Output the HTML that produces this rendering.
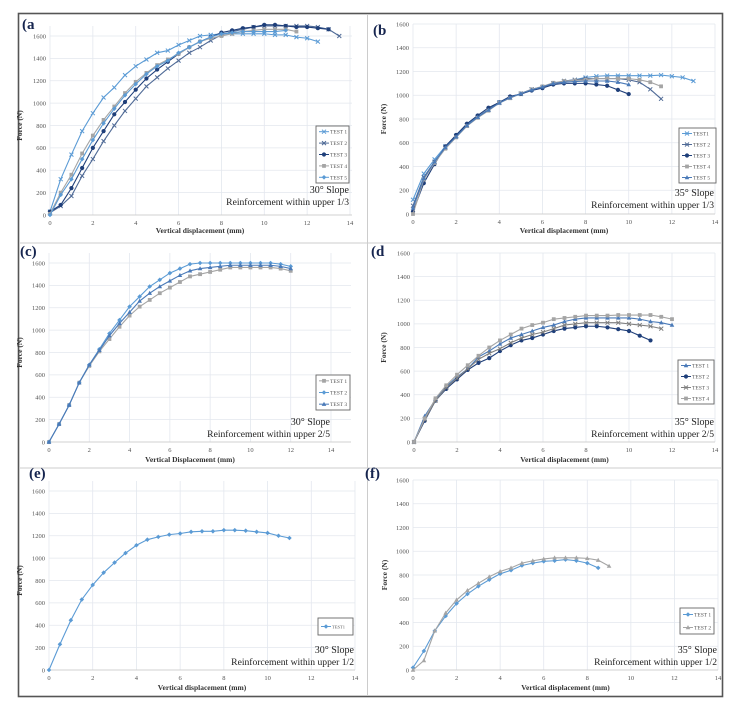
<!DOCTYPE html>
<html><head><meta charset="utf-8">
<style>
html,body{margin:0;padding:0;background:#fff;}
svg{display:block;font-family:"Liberation Serif",serif;}
</style></head>
<body>
<svg id="fig" width="737" height="714" viewBox="0 0 737 714">
<rect x="0" y="0" width="737" height="714" fill="#fff"/>
<rect x="18.5" y="13.5" width="704" height="683" fill="none" stroke="#555" stroke-width="1.6"/>
<line x1="367.5" y1="14" x2="367.5" y2="696" stroke="#ccc" stroke-width="1"/>
<line x1="19" y1="243" x2="722" y2="243" stroke="#ccc" stroke-width="1"/>
<line x1="19" y1="468" x2="722" y2="468" stroke="#ccc" stroke-width="1"/>
</svg>
<script>
// ---------- data ----------
const xTicks = [0,2,4,6,8,10,12,14];
const yTicks = [0,200,400,600,800,1000,1200,1400,1600];

const aTest1 = [30,320,540,750,910,1050,1140,1250,1330,1390,1450,1470,1520,1560,1600,1610,1620,1620,1620,1620,1620,1610,1610,1590,1580,1550];
const aTest2 = [20,80,170,350,500,660,800,930,1040,1150,1230,1310,1380,1450,1500,1560,1610,1640,1660,1680,1690,1690,1690,1690,1690,1680,1660,1600];
const aTest3 = [30,90,240,420,600,750,900,1010,1120,1220,1300,1370,1440,1500,1550,1590,1630,1650,1670,1680,1700,1700,1690,1680,1680,1670,1660];
const aTest4 = [10,200,360,550,710,850,970,1090,1190,1270,1340,1390,1440,1500,1550,1580,1600,1620,1640,1650,1660,1660,1660,1640];
const aTest5 = [0,180,320,500,670,820,950,1070,1170,1260,1330,1380,1450,1500,1550,1590,1620,1630,1640,1640,1640,1640,1650];

const bTest1 = [120,340,460,570,660,750,820,880,940,980,1010,1050,1070,1100,1120,1130,1150,1160,1165,1165,1165,1165,1165,1170,1160,1150,1120];
const bTest2 = [70,310,440,560,655,745,815,880,935,980,1015,1050,1070,1100,1120,1130,1140,1140,1140,1140,1130,1110,1050,970];
const bTest3 = [20,260,420,570,665,760,830,895,940,990,1010,1040,1060,1090,1100,1100,1100,1090,1080,1045,1010];
const bTest4 = [0,290,430,550,645,740,810,870,935,975,1015,1050,1075,1105,1120,1125,1130,1140,1140,1140,1140,1130,1110,1075];
const bTest5 = [50,300,440,560,650,745,815,875,935,980,1015,1045,1070,1100,1110,1115,1120,1120,1120,1110,1090];

const cTest1 = [0,160,330,530,680,810,920,1030,1130,1210,1270,1330,1380,1430,1480,1500,1520,1540,1560,1560,1560,1560,1560,1550,1530];
const cTest2 = [0,160,330,530,690,830,970,1090,1210,1300,1390,1450,1510,1550,1590,1600,1600,1600,1600,1600,1600,1600,1600,1590,1570];
const cTest3 = [0,160,330,530,690,820,950,1060,1160,1260,1330,1390,1440,1490,1530,1550,1560,1570,1580,1580,1580,1580,1580,1570,1550];

const dTest1 = [0,220,360,470,550,620,720,770,830,880,910,940,970,990,1020,1040,1050,1050,1050,1050,1050,1040,1020,1010,990];
const dTest2 = [0,180,350,450,530,610,670,710,770,820,860,880,910,940,960,970,980,980,970,955,940,900,860];
const dTest3 = [0,190,350,460,540,620,700,750,790,840,880,910,930,960,990,1000,1010,1010,1010,1010,1000,990,980,960];
const dTest4 = [0,200,370,480,570,650,730,800,860,910,960,990,1010,1040,1050,1060,1070,1070,1070,1075,1075,1075,1075,1060,1040];

const eTest1 = [0,230,445,630,760,870,960,1045,1115,1165,1190,1210,1220,1235,1240,1240,1250,1250,1245,1235,1225,1200,1180];

const fTest1 = [20,160,330,455,560,640,705,760,810,840,880,900,915,920,930,920,900,860];
const fTest2 = [0,80,330,480,590,670,730,785,830,860,900,920,935,945,945,945,940,925,875];

// ---------- layout ----------
const C = {light:'#5b9bd5', mid:'#4a7ab8', slate:'#4f6a96', navy:'#1f3f7a', gray:'#a5a5a5', dgray:'#7f7f7f'};
const panels = [
 {id:'a', label:'(a', lx:22, ly:29, x0:50, x14:350, right:352, y0:215, y16:36, top:26, xt:233, yt:22,
  xtitle:'Vertical displacement (mm)', ann:['30° Slope','Reinforcement within upper 1/3'], annY:193,
  leg:{x:316,y:126,w:33,h:57},
  series:[['TEST 1',aTest1,C.light,'x'],['TEST 2',aTest2,C.slate,'x'],['TEST 3',aTest3,C.navy,'o'],['TEST 4',aTest4,C.gray,'s'],['TEST 5',aTest5,C.light,'d']]},
 {id:'b', label:'(b', lx:373, ly:35, x0:413, x14:715, right:715, y0:214, y16:24, top:24, xt:233, yt:386,
  xtitle:'Vertical displacement (mm)', ann:['35° Slope','Reinforcement within upper 1/3'], annY:196,
  leg:{x:679,y:128,w:37,h:55},
  series:[['TEST1',bTest1,C.light,'x'],['TEST 2',bTest2,C.slate,'x'],['TEST 3',bTest3,C.navy,'o'],['TEST 4',bTest4,C.gray,'s'],['TEST 5',bTest5,C.mid,'t']]},
 {id:'c', label:'(c)', lx:20, ly:256, x0:49, x14:331, right:351, y0:442, y16:263, top:253, xt:462, yt:22,
  xtitle:'Vertical Displacement (mm)', ann:['30° Slope','Reinforcement within upper 2/5'], annY:425,
  leg:{x:316,y:375,w:34,h:35},
  series:[['TEST 1',cTest1,C.gray,'s'],['TEST 2',cTest2,C.light,'d'],['TEST 3',cTest3,C.mid,'t']]},
 {id:'d', label:'(d', lx:371, ly:256, x0:414, x14:715, right:715, y0:442, y16:253, top:253, xt:462, yt:386,
  xtitle:'Vertical displacement (mm)', ann:['35° Slope','Reinforcement within upper 2/5'], annY:425,
  leg:{x:678,y:360,w:36,h:44},
  series:[['TEST 1',dTest1,C.mid,'t'],['TEST 2',dTest2,C.navy,'o'],['TEST 3',dTest3,C.dgray,'x'],['TEST 4',dTest4,C.gray,'s']]},
 {id:'e', label:'(e)', lx:29, ly:478, x0:49, x14:355, right:355, y0:670, y16:491, top:481, xt:690, yt:22,
  xtitle:'Vertical displacement (mm)', ann:['30° Slope','Reinforcement within upper 1/2'], annY:653,
  leg:{x:318,y:618,w:35,h:17},
  series:[['TEST1',eTest1,C.light,'d']]},
 {id:'f', label:'(f)', lx:365, ly:478, x0:413, x14:718, right:718, y0:670, y16:480, top:480, xt:690, yt:387,
  xtitle:'Vertical displacement (mm)', ann:['35° Slope','Reinforcement within upper 1/2'], annY:653,
  leg:{x:680,y:608,w:34,h:26},
  series:[['TEST 1',fTest1,C.light,'d'],['TEST 2',fTest2,C.gray,'t']]}
];

const NS='http://www.w3.org/2000/svg';
const svg=document.getElementById('fig');
function mk(tag,attrs,parent){const e=document.createElementNS(NS,tag);for(const k in attrs)e.setAttribute(k,attrs[k]);(parent||svg).appendChild(e);return e;}
function marker(g,type,x,y,col){
  const r=2;
  let m;
  if(type==='o') m=mk('circle',{cx:x,cy:y,r:2.1,fill:col},g);
  else if(type==='s') m=mk('rect',{x:x-1.9,y:y-1.9,width:3.8,height:3.8,fill:col},g);
  else if(type==='d') m=mk('path',{d:`M${x},${y-2.3}L${x+2.3},${y}L${x},${y+2.3}L${x-2.3},${y}Z`,fill:col},g);
  else if(type==='t') m=mk('path',{d:`M${x},${y-2.4}L${x+2.3},${y+1.7}L${x-2.3},${y+1.7}Z`,fill:col},g);
  else m=mk('path',{d:`M${x-r},${y-r}L${x+r},${y+r}M${x-r},${y+r}L${x+r},${y-r}`,stroke:col,'stroke-width':1,fill:'none'},g);
  return m;
}

panels.forEach(p=>{
  const sx=v=>p.x0+(p.x14-p.x0)*v/14;
  const sy=v=>p.y0-(p.y0-p.y16)*v/1600;
  const g=mk('g',{});
  
  
  // grid
  const grid=mk('g',{},g);
  
  
  yTicks.forEach(t=>{mk('line',{x1:p.x0,x2:p.right,y1:sy(t),y2:sy(t),stroke:'#e3e7ee','stroke-width':0.8},grid);});
  xTicks.forEach(t=>{mk('line',{x1:sx(t),x2:sx(t),y1:p.top,y2:p.y0,stroke:'#e3e7ee','stroke-width':0.8},grid);});
  mk('line',{x1:p.x0,x2:p.right,y1:p.y0,y2:p.y0,stroke:'#d0d0d0','stroke-width':0.9},grid);
  // tick labels
  xTicks.forEach(t=>{const e=mk('text',{x:sx(t),y:p.y0+10,'font-size':6.5,fill:'#555','text-anchor':'middle'},g);e.textContent=t;
    });
  yTicks.forEach(t=>{const e=mk('text',{x:p.x0-4,y:sy(t)+2.3,'font-size':6.5,fill:'#555','text-anchor':'end'},g);e.textContent=t;
    });
  // axis titles
  const xt=mk('text',{x:(p.x0+p.x14)/2,y:p.xt,'font-size':7.5,'font-weight':'bold',fill:'#333','text-anchor':'middle'},g);
  xt.textContent=p.xtitle;
  
  
  const cy=(p.y0+p.y16)/2;
  const yt=mk('text',{x:p.yt,y:cy,'font-size':7.5,'font-weight':'bold',fill:'#333','text-anchor':'middle',transform:`rotate(-90 ${p.yt} ${cy})`},g);
  yt.textContent='Force (N)';
  
  
  // series
  p.series.forEach((s,i)=>{
    const sg=mk('g',{},g);
    
    
    const pts=s[1].map((v,j)=>[sx(j*0.5),sy(v)]);
    mk('polyline',{points:pts.map(q=>q.join(',')).join(' '),fill:'none',stroke:s[2],'stroke-width':1.1},sg);
    pts.forEach(q=>{const m=marker(sg,s[3],q[0],q[1],s[2]);
      });
  });
  // legend
  const L=p.leg;
  const lg=mk('g',{},g);
  
  
  mk('rect',{x:L.x,y:L.y,width:L.w,height:L.h,fill:'#fff',stroke:'#666','stroke-width':0.9},lg);
  const n=p.series.length, step=L.h/n;
  p.series.forEach((s,i)=>{
    const yy=L.y+step*(i+0.5);
    const le=mk('g',{},lg);
    
    
    mk('line',{x1:L.x+3,x2:L.x+13,y1:yy,y2:yy,stroke:s[2],'stroke-width':1},le);
    marker(le,s[3],L.x+8,yy,s[2]);
    const t=mk('text',{x:L.x+14,y:yy+2,'font-size':n===1?4.5:5.5,fill:'#555'},le);
    t.textContent=s[0];
  });
  // annotation
  p.ann.forEach((a,i)=>{const t=mk('text',{x:p.x14-1,y:p.annY+i*12,'font-size':i===0?10:9.6,fill:'#222','text-anchor':'end'},g);t.textContent=a;
    });
  // panel label
  const pl=mk('text',{x:p.lx,y:p.ly,'font-size':15,'font-weight':'bold',fill:'#16254f'},g);
  pl.textContent=p.label;
  
  
});
</script>
</body></html>
